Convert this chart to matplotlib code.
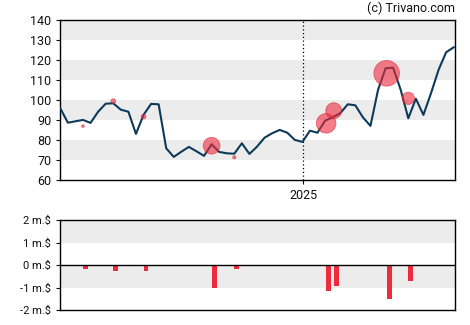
import matplotlib
matplotlib.use('Agg')
import matplotlib.pyplot as plt
import matplotlib.dates as mdates
import numpy as np
import pandas as pd

plt.rcParams['font.family'] = ['Roboto', 'DejaVu Sans']

# weekly closing prices
dates = pd.date_range('2024-05-21', periods=53, freq='7D')
price = [96, 88.8, 89.5, 90.2, 88.7, 94.3, 98.3, 98.5, 95.3, 94.3,
         83.2, 92.7, 98.2, 98, 76, 71.7, 74.3, 76.7, 74.5, 72.2,
         78, 74.2, 73.5, 73.3, 78.5, 73.2, 76.8, 81.3, 83.5, 85.2,
         83.8, 80.2, 79.2, 84.8, 83.8, 89.8, 91.5, 93.5, 98, 97.5,
         91.5, 87.2, 105.2, 116, 116.3, 105.2, 91, 100.8, 92.7, 103.5,
         115.2, 124, 126.5]

# insider trades
trade_dates = pd.to_datetime(['2024-06-11', '2024-07-09', '2024-08-06', '2024-10-08',
                              '2024-10-29', '2025-01-22', '2025-01-29', '2025-03-19',
                              '2025-04-08'])
trade_price = [87.1, 99.6, 91.8, 77.3, 71.5, 88.5, 94.8, 113.5, 101]
trade_value = [-0.16, -0.28, -0.28, -1.0, -0.19, -1.17, -0.95, -1.53, -0.73]

line_col = '#0e3a5a'
red = '#ee2a3c'
band = '#ececec'

fig = plt.figure(figsize=(4.7, 3.25), dpi=100)
ax = fig.add_axes([60.3/470, (325-180.3)/325, 395/470, 160/325])
ax2 = fig.add_axes([60.3/470, (325-310)/325, 395/470, 90/325])

xmin = dates[0]
xmax = dates[-1] + pd.Timedelta(days=1.5)

# price chart
for lo in [70, 90, 110, 130]:
    ax.axhspan(lo, lo + 10, color=band, lw=0, zorder=0)
ax.plot(dates, price, color=line_col, lw=1.5, zorder=3)
sizes = [145 * v**2 for v in trade_value]
ax.scatter(trade_dates, trade_price, s=sizes, facecolor=red, edgecolor='#d81f30',
           alpha=0.6, lw=0.6, zorder=4)
ax.axvline(pd.Timestamp('2025-01-01'), color='black', lw=0.9, ls=(0, (1, 2)), zorder=2)
ax.set_xlim(xmin, xmax)
ax.set_ylim(60, 140)
ax.set_yticks(range(60, 141, 10))
ax.set_xticks([pd.Timestamp('2025-01-01')])
ax.xaxis.set_major_formatter(mdates.DateFormatter('%Y'))
ax.tick_params(labelsize=9, length=3, colors='#111')

# insider trade bars
ax2.axhspan(1, 2, color=band, lw=0, zorder=0)
ax2.axhspan(-1, 0, color=band, lw=0, zorder=0)
ax2.bar(trade_dates, trade_value, width=4.6, align='edge', color=red, zorder=3)
ax2.axhline(0, color='black', lw=1, zorder=4)
ax2.set_xlim(xmin, xmax)
ax2.set_ylim(-2, 2)
ax2.set_yticks([-2, -1, 0, 1, 2])
ax2.set_yticklabels(['-2 m.$', '-1 m.$', '0 m.$', '1 m.$', '2 m.$'])
ax2.set_xticks([])
ax2.tick_params(labelsize=8, length=3, colors='#111')

for a in (ax, ax2):
    for s in a.spines.values():
        s.set_linewidth(1)

fig.text(455/470, 1 - 8/325, '(c) Trivano.com', ha='right', va='center', fontsize=9, color='#111')

fig.savefig('out.png', dpi=100)
